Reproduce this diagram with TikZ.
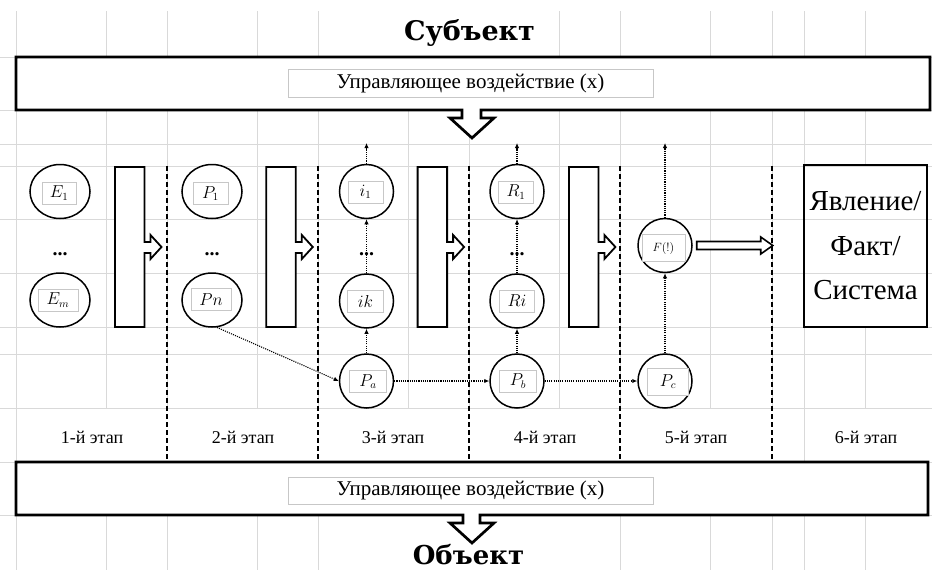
\documentclass[tikz,border=0pt]{standalone}
\usepackage{fontspec}
\setmainfont{Liberation Serif}
\newfontfamily\titlefont{DejaVu Serif}
\usetikzlibrary{arrows.meta,calc,shapes.geometric}
\tikzset{
  gridline/.style={draw=black!15, line width=0.9pt},
  bigbox/.style={draw=black, line width=2.7pt, fill=white, line join=miter},
  txtbox/.style={draw=black!22, line width=0.8pt, fill=white, minimum width=365pt, minimum height=28pt, inner sep=0pt, font=\fontsize{21}{24}\selectfont},
  titletext/.style={anchor=base, inner sep=0pt, font={\titlefont\bfseries\fontsize{27}{30}\selectfont}},
  stagetext/.style={font=\fontsize{18}{20}\selectfont, inner sep=0pt},
  elli/.style={ellipse, draw, line width=1.5pt, fill=white, minimum width=60pt, minimum height=54pt, inner sep=0pt},
  circ/.style={circle, draw, line width=1.5pt, fill=white, minimum size=54pt, inner sep=0pt},
  lbl/.style={draw=black!22, line width=0.7pt, fill=white, minimum width=35pt, minimum height=22pt, inner sep=0pt, font=\fontsize{16}{18}\selectfont},
  tallrect/.style={draw, line width=1.8pt, fill=white, line join=miter},
  stagesep/.style={line width=1.3pt, dash pattern=on 5pt off 3pt},
  dotarrow/.style={line width=1.1pt, dash pattern=on 1.1pt off 1.1pt, -{Latex[length=5pt,width=4.5pt]}},
  dotsnode/.style={font=\fontsize{20}{22}\selectfont\bfseries, anchor=base, inner sep=0pt},
  blockarr/.style={draw, line width=1.6pt, fill=white, line join=miter},
}
\begin{document}
\begin{tikzpicture}[x=1pt,y=-1pt]
\useasboundingbox[fill=white] (0,0) rectangle (932,570);
% spreadsheet grid
\foreach \x in {16,106,167,257,318,408,469,559,620,710,772,804}
  \draw[gridline] (\x,11) -- (\x,570);
\draw[gridline] (865,11) -- (865,166);
\draw[gridline] (865,327) -- (865,570);
\foreach \y in {57,110,144,166,219,273,327,354,408,462,515}
  \draw[gridline] (0,\y) -- (932,\y);
% merged cells (no inner grid lines)
\fill[white] (16.6,408.6) rectangle (803.4,461.4);
\fill[white] (804.6,408.6) rectangle (932,461.4);
\fill[white] (318.6,11) rectangle (558.4,56.4);
\fill[white] (318.6,515.6) rectangle (619.4,570);
% stage separators
\foreach \x in {167,318,469,620,772}
  \draw[stagesep] (\x,166) -- (\x,462);
% top box with arrow
\draw[bigbox] (16,57) -- (930,57) -- (930,110) -- (481,110) -- (481,118) -- (494,118)
  -- (472,138) -- (450,118) -- (462,118) -- (462,110) -- (16,110) -- cycle;
\node[txtbox] (ctrlTop) at (470.5,83) {Управляющее воздействие (x)};
\node[titletext] (subj) at (469.5,40) {Субъект};
% bottom box with arrow
\draw[bigbox] (16,462) -- (928,462) -- (928,515) -- (480,515) -- (480,523) -- (494,523)
  -- (472,543) -- (450,523) -- (463,523) -- (463,515) -- (16,515) -- cycle;
\node[txtbox, minimum height=27pt] (ctrlBot) at (470.5,490.5) {Управляющее воздействие (x)};
\node[titletext, font={\titlefont\bfseries\fontsize{26}{30}\selectfont}] (obj) at (468.5,564.5) {Объект};
% transition rectangles with arrows
\foreach \xa in {115,266.3,417.6,568.9}
  \draw[tallrect] (\xa,167) -- ++(29.5,0) -- ++(0,75) -- ++(6,0) -- ++(0,-7) -- ++(11,12)
    -- ++(-11,12) -- ++(0,-6) -- ++(-6,0) -- ++(0,74) -- ++(-29.5,0) -- cycle;
% stage 1
\node[elli] (E1) at (60,191.5) {};
\node[lbl, minimum width=34pt] (E1l) at (59,193) {$E_1$};
\node[dotsnode] (d1) at (60,255.5) {...};
\node[elli] (Em) at (60,300) {};
\node[lbl, minimum width=40pt] (Eml) at (58,300) {$E_m$};
% stage 2
\node[elli] (P1) at (212,191.5) {};
\node[lbl] (P1l) at (210.5,193.5) {$P_1$};
\node[dotsnode] (d2) at (212,255.5) {...};
\node[elli] (Pn) at (212,300) {};
\node[lbl, minimum width=40pt] (Pnl) at (211,299.5) {$Pn$};
% stage 3
\node[circ] (i1) at (366.5,191.5) {};
\node[lbl] (i1l) at (365.5,192) {$i_1$};
\node[circ] (ik) at (366.5,301) {};
\node[lbl, minimum width=36pt] (ikl) at (365.5,301.5) {$ik$};
\node[circ] (Pa) at (366.5,381) {};
\node[lbl, minimum width=37pt] (Pal) at (368,381.5) {$P_a$};
% stage 4
\node[circ] (R1) at (517,191.5) {};
\node[lbl] (R1l) at (516,192) {$R_1$};
\node[circ] (Ri) at (517,301) {};
\node[lbl] (Ril) at (517,301) {$Ri$};
\node[circ] (Pb) at (517,381) {};
\node[lbl, minimum width=37pt] (Pbl) at (518,381) {$P_b$};
% stage 5
\node[circ] (F) at (665,245.5) {};
\node[lbl, minimum width=43pt, minimum height=27pt, font=\fontsize{13}{15}\selectfont] (Fl) at (663.5,248) {$F(!)$};
\node[circ] (Pc) at (665,381) {};
\node[lbl, minimum width=41pt, minimum height=27pt] (Pcl) at (668,381.5) {$P_c$};
% dotted connectors
\coordinate (iTop) at (366.5,143);
\coordinate (rTop) at (517,143);
\coordinate (fTop) at (665,143);
\draw[dotarrow] (Pn.-80) -- (Pa.west);
\draw[dotarrow] (Pa.east) -- (Pb.west);
\draw[dotarrow] (Pb.east) -- (Pc.west);
\draw[dotarrow] (Pa.north) -- (ik.south);
\draw[dotarrow] (ik.north) -- (i1.south);
\draw[dotarrow] (i1.north) -- (iTop);
\draw[dotarrow] (Pb.north) -- (Ri.south);
\draw[dotarrow] (Ri.north) -- (R1.south);
\draw[dotarrow] (R1.north) -- (rTop);
\draw[dotarrow] (Pc.north) -- (F.south);
\draw[dotarrow] (F.north) -- (fTop);
\node[dotsnode] (d3) at (366.5,255.5) {...};
\node[dotsnode] (d4) at (517,255.5) {...};
% block arrow from F(!)
\draw[blockarr] ($(F.east)+(4,-4)$) -- ++(64,0) -- ++(0,-4.5) -- ++(12,8.5) -- ++(-12,8.5)
  -- ++(0,-4.5) -- ++(-64,0) -- cycle;
% result box
\node[draw, line width=1.8pt, minimum width=123pt, minimum height=162pt, inner sep=0pt,
  align=center, font=\fontsize{29}{44.5}\selectfont] (phen) at (865.5,246) {Явление/\\Факт/\\Система};
% stage labels
\node[stagetext] (s1) at (92,437) {1-й этап};
\node[stagetext] (s2) at (243,437) {2-й этап};
\node[stagetext] (s3) at (393,437) {3-й этап};
\node[stagetext] (s4) at (545,437) {4-й этап};
\node[stagetext] (s5) at (696,437) {5-й этап};
\node[stagetext] (s6) at (866,437) {6-й этап};
\end{tikzpicture}
\end{document}
